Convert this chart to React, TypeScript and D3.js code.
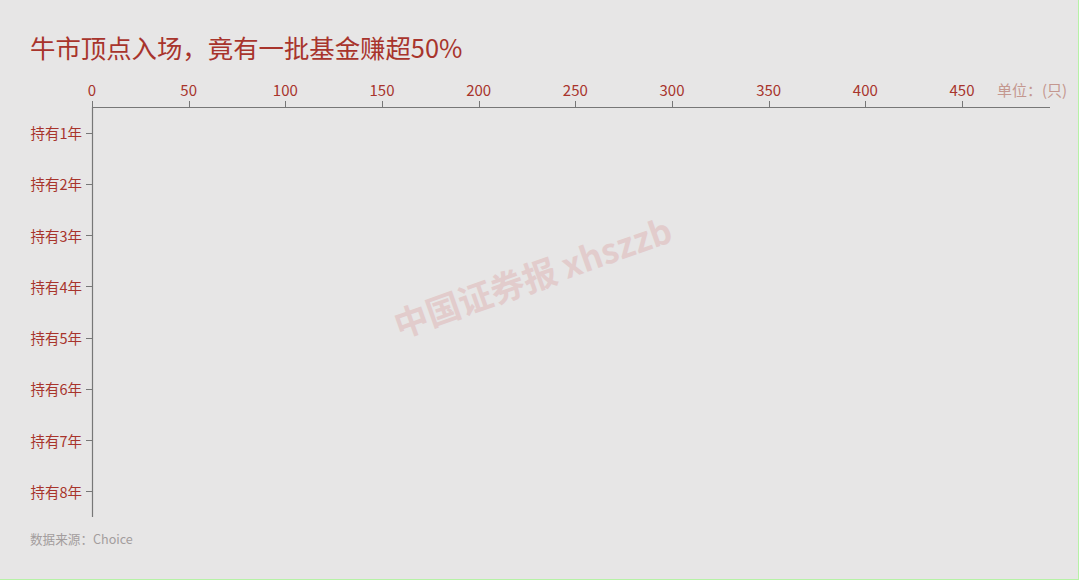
import React from "react";
import * as d3 from "d3";

const categories = ["持有1年", "持有2年", "持有3年", "持有4年", "持有5年", "持有6年", "持有7年", "持有8年"];
// First frame of the animated chart: no bars drawn yet
const values = [0, 0, 0, 0, 0, 0, 0, 0];
const xTicks = [0, 50, 100, 150, 200, 250, 300, 350, 400, 450];

const W = 1079;
const H = 580;
const FONT = '"Noto Sans CJK SC", "Noto Sans", sans-serif';
const RED = "#a8342c";

export default function App() {
  const x = d3.scaleLinear().domain([0, 450]).range([92, 962]);
  const y = d3.scaleBand<string>().domain(categories).range([107, 517]);
  const axisTop = 107;
  const axisLeft = x(0);

  return (
    <div style={{ position: "fixed", left: 0, top: 0, width: W, height: H }}>
      <svg width={W} height={H} style={{ display: "block", fontFamily: FONT }}>
        <rect x={0} y={0} width={W} height={H} fill="#e7e6e6" />
        <line x1={W - 0.5} y1={0} x2={W - 0.5} y2={H} stroke="#b6f2a6" />
        <line x1={0} y1={H - 0.5} x2={W} y2={H - 0.5} stroke="#b6f2a6" />

        <text x={30} y={58} fontSize={25.4} fill={RED}>牛市顶点入场，竟有一批基金赚超50%</text>

        {/* watermark */}
        <text
          x={0}
          y={0}
          transform="translate(534,281) rotate(-19.5)"
          textAnchor="middle"
          dominantBaseline="middle"
          fontSize={34}
          fontWeight="bold"
          fill="#e2cccc"
        >
          中国证券报 xhszzb
        </text>

        {/* bars */}
        {categories.map((c, i) => (
          <rect key={c} x={x(0)} y={(y(c) ?? 0) + y.bandwidth() * 0.25} width={x(values[i]) - x(0)} height={y.bandwidth() * 0.5} fill={RED} />
        ))}

        {/* top axis */}
        <line x1={axisLeft} y1={axisTop + 0.5} x2={1050} y2={axisTop + 0.5} stroke="#777" strokeWidth={1.2} />
        {xTicks.map((t) => (
          <g key={t}>
            <line x1={Math.round(x(t)) + 0.5} y1={axisTop - 6} x2={Math.round(x(t)) + 0.5} y2={axisTop} stroke="#777" />
            <text x={x(t)} y={96} textAnchor="middle" fontSize={15} fill={RED}>{t}</text>
          </g>
        ))}
        <text x={997} y={96} fontSize={15} fill="#c4978f">单位：(只)</text>

        {/* left axis */}
        <line x1={axisLeft + 0.5} y1={axisTop} x2={axisLeft + 0.5} y2={517} stroke="#777" strokeWidth={1.2} />
        {categories.map((c) => {
          const cy = (y(c) ?? 0) + y.bandwidth() / 2;
          return (
            <g key={c}>
              <line x1={axisLeft - 6} y1={Math.round(cy) + 0.5} x2={axisLeft} y2={Math.round(cy) + 0.5} stroke="#777" />
              <text x={82} y={cy} textAnchor="end" dominantBaseline="central" fontSize={14.5} fill={RED}>{c}</text>
            </g>
          );
        })}

        <text x={30} y={544} fontSize={12.6} fill="#a39d9d">数据来源：Choice</text>
      </svg>
    </div>
  );
}
